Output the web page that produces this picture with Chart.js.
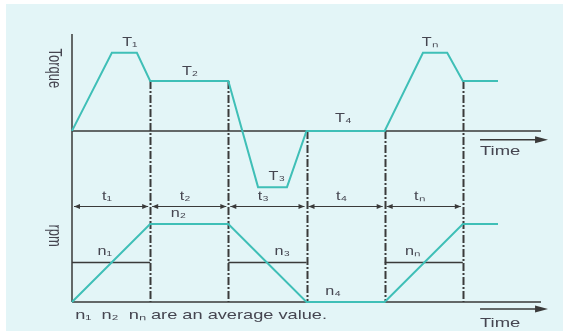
<!DOCTYPE html>
<html>
<head>
<meta charset="utf-8">
<script src="https://cdn.jsdelivr.net/npm/chart.js@4.4.0/dist/chart.umd.min.js"></script>
<style>
  html, body { margin: 0; padding: 0; background: #ffffff; }
  #wrap { position: relative; width: 563px; height: 331px; }
  #bg { position: absolute; left: 6px; top: 4px; right: 0; bottom: 0; background: #e3f5f7; }
  canvas { position: absolute; left: 0; top: 0; }
</style>
</head>
<body>
<div id="wrap">
  <div id="bg"></div>
  <canvas id="c" width="563" height="331"></canvas>
</div>
<script>
// 구간 경계 (시간 단위)
const segBounds = [0, 1, 2, 3, 4, 5];
const segLabels = ['t\u2081', 't\u2082', 't\u2083', 't\u2084', 't\u2099'];

// 토크 곡선
const torqueTime = [0, 0.51, 0.83, 1, 2, 2.38, 2.75, 3, 4, 4.49, 4.8, 5, 5.45];
const torqueVal = [0, 100, 100, 64, 64, -72, -72, 0, 0, 100, 100, 64, 64];
// 경계선 위쪽 끝 토크값 (t=1..5)
const guideTorque = [64, 64, 0, 0, 64];

// 회전수 곡선
const rpmTime = [0, 1, 2, 3, 4, 5, 5.45];
const rpmVal = [0, 100, 100, 0, 0, 100, 100];
// 평균 회전수 (t1, t3, tn 구간)
const avgSegs = [0, 2, 4];
const avgRpm = [51, 51, 51];

// 라벨 (x, y 는 데이터 단위)
const torqueLabels = [
  { text: 'T\u2081', x: 0.74, y: 113 },
  { text: 'T\u2082', x: 1.51, y: 76 },
  { text: 'T\u2083', x: 2.62, y: -59 },
  { text: 'T\u2084', x: 3.47, y: 15 },
  { text: 'T\u2099', x: 4.58, y: 113 }
];
const rpmLabels = [
  { text: 'n\u2081', x: 0.42, y: 64 },
  { text: 'n\u2082', x: 1.36, y: 113 },
  { text: 'n\u2083', x: 2.69, y: 64 },
  { text: 'n\u2084', x: 3.34, y: 13 },
  { text: 'n\u2099', x: 4.36, y: 64 }
];

const TEAL = '#3fbfb7';
const DARK = '#3a3a3a';
const TEXT = '#454550';

function pts(xs, ys) {
  return xs.map((x, i) => ({ x: x, y: ys[i] }));
}

function arrowHead(ctx, x, y, dir, len, half) {
  ctx.beginPath();
  ctx.moveTo(x, y);
  ctx.lineTo(x - dir * len, y - half);
  ctx.lineTo(x - dir * len, y + half);
  ctx.closePath();
  ctx.fill();
}

// 원본 그림이 옆으로 늘어나 있어서 글자도 가로로 늘려줌
function wideText(c, text, x, y, align, sx) {
  c.save();
  c.translate(x, y);
  c.scale(sx, 1);
  c.textAlign = align;
  c.fillText(text, 0, 0);
  c.restore();
}

const ctx = document.getElementById('c').getContext('2d');

//배경 그림 (축, 보조선, 글자)
const diagramPlugin = {
  id: 'diagram',
  beforeDatasetsDraw: chart => {
    const c = chart.ctx;
    const xs = chart.scales.x;
    const yT = chart.scales.yT;
    const yN = chart.scales.yN;
    const area = chart.chartArea;
    c.save();

    // 세로 점선 (구간 경계)
    c.strokeStyle = DARK;
    c.lineWidth = 2;
    c.setLineDash([8, 2, 2, 2]);
    for (let i = 1; i < segBounds.length; i++) {
      const px = Math.round(xs.getPixelForValue(segBounds[i])) + 0.5;
      c.beginPath();
      c.moveTo(px, yT.getPixelForValue(guideTorque[i - 1]));
      c.lineTo(px, yN.getPixelForValue(0));
      c.stroke();
    }
    c.setLineDash([]);

    // 축
    c.lineWidth = 1.5;
    c.beginPath();
    c.moveTo(xs.getPixelForValue(0), area.top);
    c.lineTo(xs.getPixelForValue(0), yN.getPixelForValue(0));
    c.moveTo(xs.getPixelForValue(0), yT.getPixelForValue(0));
    c.lineTo(xs.getPixelForValue(6), yT.getPixelForValue(0));
    c.moveTo(xs.getPixelForValue(0), yN.getPixelForValue(0));
    c.lineTo(xs.getPixelForValue(6), yN.getPixelForValue(0));
    c.stroke();

    // 평균 회전수 선
    c.lineWidth = 1.5;
    avgSegs.forEach((s, i) => {
      const py = Math.round(yN.getPixelForValue(avgRpm[i])) + 0.5;
      c.beginPath();
      c.moveTo(xs.getPixelForValue(segBounds[s]), py);
      c.lineTo(xs.getPixelForValue(segBounds[s + 1]), py);
      c.stroke();
    });

    // 구간 치수 화살표
    c.lineWidth = 1;
    c.fillStyle = DARK;
    const dimY = Math.round(yN.getPixelForValue(123)) + 0.5;
    for (let i = 0; i < segBounds.length - 1; i++) {
      const x1 = xs.getPixelForValue(segBounds[i]) + 2;
      const x2 = xs.getPixelForValue(segBounds[i + 1]) - 2;
      c.beginPath();
      c.moveTo(x1, dimY);
      c.lineTo(x2, dimY);
      c.stroke();
      arrowHead(c, x1, dimY, -1, 6, 2.5);
      arrowHead(c, x2, dimY, 1, 6, 2.5);
    }

    // Time 화살표
    c.lineWidth = 1.5;
    [[yT, -11.5], [yN, -9]].forEach(a => {
      const py = a[0].getPixelForValue(a[1]);
      const x1 = xs.getPixelForValue(5.22);
      const x2 = xs.getPixelForValue(6.09);
      c.beginPath();
      c.moveTo(x1, py);
      c.lineTo(x2 - 8, py);
      c.stroke();
      arrowHead(c, x2, py, 1, 13, 3.5);
    });

    c.restore();
  },
  afterDraw: chart => {
    const c = chart.ctx;
    const xs = chart.scales.x;
    const yT = chart.scales.yT;
    const yN = chart.scales.yN;
    c.save();
    c.fillStyle = TEXT;
    c.textBaseline = 'middle';
    c.font = '12px "Liberation Sans", Arial, sans-serif';

    torqueLabels.forEach(l => {
      wideText(c, l.text, xs.getPixelForValue(l.x), yT.getPixelForValue(l.y), 'center', 1.35);
    });
    rpmLabels.forEach(l => {
      wideText(c, l.text, xs.getPixelForValue(l.x), yN.getPixelForValue(l.y), 'center', 1.35);
    });
    for (let i = 0; i < segLabels.length; i++) {
      const mx = (segBounds[i] + segBounds[i + 1]) / 2;
      wideText(c, segLabels[i], xs.getPixelForValue(mx) - 4, yN.getPixelForValue(135), 'center', 1.35);
    }

    c.font = '13px "Liberation Sans", Arial, sans-serif';
    wideText(c, 'Time', xs.getPixelForValue(5.22), yT.getPixelForValue(-26), 'left', 1.42);
    wideText(c, 'Time', xs.getPixelForValue(5.22), yN.getPixelForValue(-27), 'left', 1.42);
    wideText(c, 'n\u2081  n\u2082  n\u2099 are an average value.', xs.getPixelForValue(0.04), yN.getPixelForValue(-17), 'left', 1.4);

    // 세로 축 제목
    [['Torque', yT, 80], ['rpm', yN, 85]].forEach(a => {
      c.save();
      c.translate(xs.getPixelForValue(-0.23), a[1].getPixelForValue(a[2]));
      c.rotate(Math.PI / 2);
      c.scale(1, 1.35);
      c.textAlign = 'center';
      c.fillText(a[0], 0, 0);
      c.restore();
    });
    c.restore();
  }
};

const lineChart = new Chart(ctx, {
  type: 'scatter',
  plugins: [diagramPlugin],
  data: {
    datasets: [
      {
        label: 'Torque',
        data: pts(torqueTime, torqueVal),
        yAxisID: 'yT',
        showLine: true,
        borderColor: TEAL,
        borderWidth: 2,
        pointRadius: 0,
        clip: false
      },
      {
        label: 'rpm',
        data: pts(rpmTime, rpmVal),
        yAxisID: 'yN',
        showLine: true,
        borderColor: TEAL,
        borderWidth: 2,
        pointRadius: 0,
        clip: false
      }
    ]
  },
  options: {
    responsive: false,
    animation: false,
    layout: {
      padding: { left: 72, right: 22, top: 34, bottom: 29 }
    },
    plugins: {
      legend: { display: false },
      tooltip: { enabled: false }
    },
    scales: {
      x: { type: 'linear', min: 0, max: 6, display: false },
      yT: { type: 'linear', min: -219, max: 124, display: false },
      yN: { type: 'linear', min: 0, max: 343.6, display: false }
    }
  }
});
</script>
</body>
</html>
